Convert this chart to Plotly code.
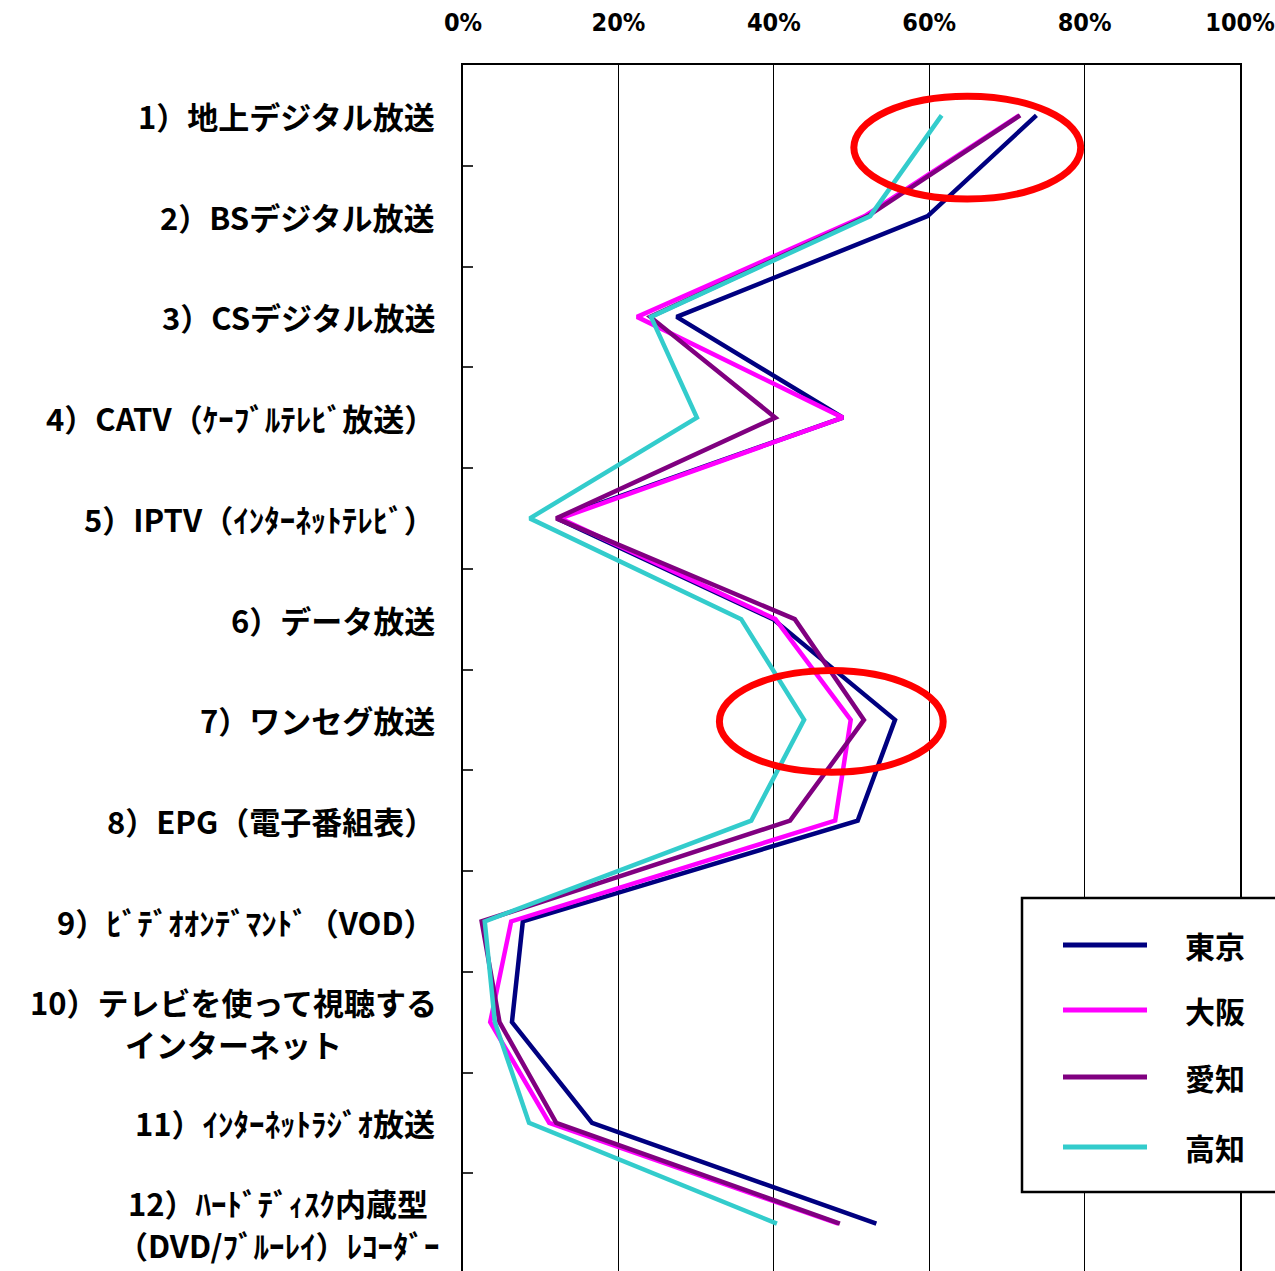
import plotly.graph_objects as go

# Survey items (y categories, top to bottom); two-line items are lists of lines
items = [
    ["1）地上デジタル放送"],
    ["2）BSデジタル放送"],
    ["3）CSデジタル放送"],
    ["4）CATV（ｹｰﾌﾞﾙﾃﾚﾋﾞ放送）"],
    ["5）IPTV（ｲﾝﾀｰﾈｯﾄﾃﾚﾋﾞ）"],
    ["6）データ放送"],
    ["7）ワンセグ放送"],
    ["8）EPG（電子番組表）"],
    ["9）ﾋﾞﾃﾞｵｵﾝﾃﾞﾏﾝﾄﾞ（VOD）"],
    ["10）テレビを使って視聴する", "インターネット"],
    ["11）ｲﾝﾀｰﾈｯﾄﾗｼﾞｵ放送"],
    ["12）ﾊｰﾄﾞﾃﾞｨｽｸ内蔵型", "（DVD/ﾌﾞﾙｰﾚｲ）ﾚｺｰﾀﾞｰ"],
]

# Share of respondents (%) per region
tokyo = [73.8, 59.8, 27.5, 48.9, 12.1, 39.9, 55.6, 50.8, 7.7, 6.3, 16.6, 53.2]
osaka = [71.6, 51.7, 22.4, 48.9, 12.5, 40.2, 49.9, 47.9, 6.2, 3.5, 11.1, 48.3]
aichi = [71.7, 52.1, 24.1, 40.2, 12.0, 42.7, 51.6, 42.1, 2.4, 4.7, 12.0, 48.5]
kochi = [61.6, 52.4, 24.2, 30.1, 8.6, 35.8, 43.9, 37.1, 2.8, 4.1, 8.5, 40.4]

regions = ["東京", "大阪", "愛知", "高知"]
colors = ["#000080", "#FF00FF", "#800080", "#33CCCC"]
series = [tokyo, osaka, aichi, kochi]

x_ticks = [0, 20, 40, 60, 80, 100]
x_tick_text = ["0%", "20%", "40%", "60%", "80%", "100%"]

W, H = 1275, 1271
ML, MR, MT, MB = 463, 35, 65, 0
PW, PH = W - ML - MR, H - MT - MB

JP_FONT = "Noto Sans CJK JP"
NUM_FONT = "Liberation Sans Narrow, DejaVu Sans Condensed, Roboto Condensed, Liberation Sans"


def px(xp):
    return (xp - ML) / PW


def py(yp):
    return (H - MB - yp) / PH


ypos = list(range(1, len(items) + 1))

fig = go.Figure()
for name, vals, col in zip(regions, series, colors):
    fig.add_trace(go.Scatter(
        x=vals, y=ypos, mode="lines", name=name,
        line=dict(color=col, width=4.5),
        showlegend=False,
    ))

label_font = dict(family=JP_FONT, size=31, color="black", weight="bold")
# horizontal centre (px) of the two-line labels, whose lines are centred
two_line_centre = {10: 233, 12: 278}

annotations = []
for yv, lines in zip(ypos, items):
    if len(lines) == 1:
        annotations.append(dict(
            x=0, xref="paper", y=yv, yref="y", text=lines[0],
            xanchor="right", yanchor="middle", xshift=-26,
            showarrow=False, font=label_font,
        ))
    else:
        for k, line in enumerate(lines):
            annotations.append(dict(
                x=px(two_line_centre[yv]), xref="paper", y=yv, yref="y",
                text=line, xanchor="center", yanchor="middle",
                yshift=21 - 42 * k, showarrow=False, font=label_font,
            ))

shapes = []
# Highlight ellipses
shapes.append(dict(type="circle", xref="x", yref="y",
                   x0=50.3, x1=79.5, y0=0.81, y1=1.83,
                   line=dict(color="#FF0000", width=7)))
shapes.append(dict(type="circle", xref="x", yref="y",
                   x0=33.0, x1=61.8, y0=6.51, y1=7.52,
                   line=dict(color="#FF0000", width=7)))

# Legend box
shapes.append(dict(type="rect", xref="paper", yref="paper",
                   x0=px(1022), x1=px(1285), y0=py(1192), y1=py(898),
                   fillcolor="white", line=dict(color="black", width=2.5),
                   layer="above"))
legend_rows = [945, 1010, 1077, 1147]
for name, col, yr in zip(regions, colors, legend_rows):
    shapes.append(dict(type="line", xref="paper", yref="paper",
                       x0=px(1063), x1=px(1147), y0=py(yr), y1=py(yr),
                       line=dict(color=col, width=5), layer="above"))
    annotations.append(dict(
        x=px(1183), xref="paper", y=py(yr), yref="paper", text=name,
        xanchor="left", yanchor="middle", showarrow=False,
        font=dict(family=JP_FONT, size=30, color="black", weight="bold"),
    ))

fig.update_layout(
    width=W, height=H,
    margin=dict(l=ML, r=MR, t=MT, b=MB, pad=0, autoexpand=False),
    paper_bgcolor="white", plot_bgcolor="white",
    annotations=annotations, shapes=shapes,
    xaxis=dict(
        side="top", range=[0, 100], tickvals=x_ticks, ticktext=x_tick_text,
        showgrid=True, gridcolor="black", gridwidth=1,
        showline=True, linecolor="black", linewidth=2, mirror=True,
        ticks="", ticklabelstandoff=22, zeroline=False,
        ticklabeloverflow="allow", automargin=False,
        tickfont=dict(family=NUM_FONT, size=25, color="black", weight="bold"),
        fixedrange=True,
    ),
    yaxis=dict(
        range=[12.47, 0.5],
        tickvals=[v + 0.5 for v in ypos[:-1]],
        ticktext=[""] * (len(ypos) - 1),
        ticks="inside", ticklen=10, tickwidth=1.5, tickcolor="#333333",
        showgrid=False, zeroline=False, automargin=False,
        showline=True, linecolor="black", linewidth=2, mirror=True,
        fixedrange=True,
    ),
)

fig.write_html("out.html")
